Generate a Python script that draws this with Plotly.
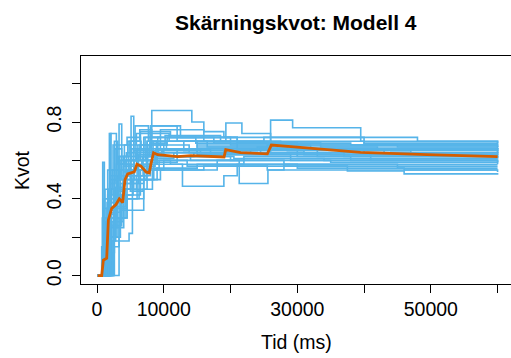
import plotly.graph_objects as go

# Blue runs: breakpoints (time in ms, ratio)
runs_t = [
    [0, 1600, 2400, 4000, 8200, 14200, 16000, 19000, 40000, 60000],
    [0, 850, 1100, 2000, 3000, 5500, 9000, 19300, 21700, 26000, 40000, 60000],
    [0, 1850, 2100, 3500, 6000, 8500, 12000, 25500, 26000, 29300, 39500, 60000],
    [0, 3300, 3700, 5000, 7000, 9500, 15000, 30000, 60000],
    [0, 1200, 2800, 5100, 5500, 7500, 9000, 20000, 35000, 60000],
    [0, 1500, 3000, 6000, 8500, 12800, 19000, 21000, 30000, 60000],
    [0, 2000, 4500, 7500, 10000, 21300, 25600, 28000, 45000, 60000],
    [0, 1000, 2500, 4500, 7000, 9000, 15000, 28000, 37500, 46000, 60000],
    [0, 2000, 3500, 6500, 7000, 9500, 16000, 30000, 46000, 60000],
    [0, 1500, 2200, 4500, 6000, 8000, 11000, 20000, 32000, 60000],
    [0, 700, 1500, 3000, 4200, 6000, 8000, 12000, 26000, 60000],
    [0, 1300, 2600, 4000, 5200, 7000, 9000, 14000, 22000, 38000, 60000],
    [0, 1800, 3000, 5500, 6000, 8000, 12000, 19000, 30000, 60000],
    [0, 1100, 1600, 2400, 4500, 6500, 8800, 13000, 25000, 48000, 60000],
    [0, 2500, 4000, 5000, 6200, 9000, 15000, 27000, 40000, 60000],
    [0, 900, 2000, 3300, 4800, 6500, 8000, 10000, 20000, 35000, 60000],
    [0, 1400, 2100, 3800, 5000, 6900, 8300, 18000, 28000, 60000],
    [0, 1700, 2600, 3400, 5200, 7200, 9500, 16000, 26000, 45000, 60000],
    [0, 1900, 3000, 4500, 6500, 8000, 11000, 22000, 34000, 60000],
    [0, 1200, 2300, 3600, 5800, 7500, 9000, 13000, 24000, 42000, 60000],
    [0, 2200, 3500, 5200, 6800, 7800, 10500, 21000, 33000, 60000],
    [0, 1000, 1800, 3200, 4800, 6200, 8400, 15000, 26000, 50000, 60000],
    [0, 1500, 2800, 4300, 5500, 7600, 9800, 17000, 29000, 60000],
    [0, 800, 1700, 2900, 4100, 5900, 8100, 12500, 21000, 38000, 60000],
    [0, 2400, 3900, 5300, 7100, 8700, 11500, 19500, 31000, 60000],
    [0, 1300, 2500, 4000, 5600, 7300, 9200, 14500, 23000, 44000, 60000],
    [0, 1600, 2700, 3900, 6100, 7900, 10200, 18500, 27500, 60000],
    [0, 1100, 2000, 3300, 4700, 6700, 8600, 12000, 20500, 36000, 60000],
    [0, 2100, 3700, 5400, 7400, 9300, 13500, 25500, 39000, 60000],
    [0, 1800, 2900, 4400, 6300, 8100, 10800, 16500, 28500, 47000, 60000],
    [0, 1700, 2000, 2900, 3400, 4600, 6600, 9100, 17500, 30000, 60000],
    [0, 2300, 2600, 3100, 4400, 5700, 7700, 10400, 20000, 37000, 60000],
    [0, 1200, 2400, 4800, 5300, 6300, 7400, 9700, 15500, 41000, 60000],
    [0, 2600, 3300, 4200, 5900, 6900, 8900, 13800, 24500, 43000, 60000],
    [0, 1400, 1900, 2700, 3700, 5000, 6400, 8200, 14800, 33500, 60000],
]
runs_y = [
    [0, 0.42, 0.55, 0.62, 0.86, 0.80, 0.75, 0.72, 0.68, 0.68],
    [0, 0.59, 0.25, 0.40, 0.52, 0.60, 0.70, 0.795, 0.74, 0.70, 0.69, 0.69],
    [0, 0.74, 0.45, 0.55, 0.65, 0.62, 0.66, 0.68, 0.81, 0.77, 0.70, 0.67],
    [0, 0.79, 0.50, 0.60, 0.72, 0.66, 0.63, 0.62, 0.61],
    [0, 0.20, 0.45, 0.83, 0.62, 0.70, 0.65, 0.64, 0.63, 0.63],
    [0, 0.25, 0.40, 0.50, 0.58, 0.465, 0.52, 0.58, 0.57, 0.57],
    [0, 0.30, 0.45, 0.55, 0.60, 0.48, 0.55, 0.58, 0.56, 0.56],
    [0, 0.10, 0.30, 0.40, 0.50, 0.56, 0.58, 0.57, 0.545, 0.53, 0.525],
    [0, 0.20, 0.34, 0.34, 0.50, 0.55, 0.57, 0.56, 0.55, 0.54],
    [0, 0.38, 0.45, 0.55, 0.68, 0.75, 0.72, 0.68, 0.66, 0.65],
    [0, 0.15, 0.35, 0.50, 0.60, 0.66, 0.78, 0.70, 0.66, 0.64],
    [0, 0.28, 0.42, 0.54, 0.48, 0.58, 0.62, 0.60, 0.62, 0.60, 0.60],
    [0, 0.30, 0.58, 0.65, 0.52, 0.59, 0.62, 0.66, 0.63, 0.62],
    [0, 0.40, 0.55, 0.68, 0.72, 0.60, 0.66, 0.70, 0.72, 0.70, 0.69],
    [0, 0.25, 0.52, 0.48, 0.58, 0.64, 0.68, 0.66, 0.64, 0.63],
    [0, 0.35, 0.50, 0.62, 0.70, 0.75, 0.68, 0.62, 0.60, 0.59, 0.58],
    [0, 0.30, 0.38, 0.48, 0.44, 0.45, 0.55, 0.60, 0.58, 0.58],
    [0, 0.32, 0.50, 0.60, 0.66, 0.72, 0.76, 0.70, 0.68, 0.67, 0.66],
    [0, 0.20, 0.35, 0.42, 0.55, 0.60, 0.58, 0.61, 0.60, 0.59],
    [0, 0.45, 0.55, 0.60, 0.64, 0.70, 0.66, 0.65, 0.67, 0.66, 0.65],
    [0, 0.33, 0.48, 0.55, 0.62, 0.68, 0.72, 0.66, 0.62, 0.61],
    [0, 0.22, 0.40, 0.58, 0.52, 0.63, 0.70, 0.67, 0.64, 0.62, 0.62],
    [0, 0.18, 0.36, 0.45, 0.52, 0.64, 0.66, 0.63, 0.60, 0.60],
    [0, 0.30, 0.45, 0.58, 0.68, 0.74, 0.78, 0.72, 0.69, 0.68, 0.68],
    [0, 0.28, 0.40, 0.50, 0.57, 0.61, 0.64, 0.65, 0.63, 0.63],
    [0, 0.26, 0.44, 0.50, 0.60, 0.66, 0.62, 0.64, 0.66, 0.65, 0.64],
    [0, 0.34, 0.46, 0.57, 0.62, 0.69, 0.73, 0.70, 0.68, 0.67],
    [0, 0.40, 0.52, 0.62, 0.55, 0.60, 0.64, 0.62, 0.61, 0.61, 0.61],
    [0, 0.26, 0.42, 0.50, 0.56, 0.60, 0.57, 0.55, 0.55, 0.55],
    [0, 0.36, 0.52, 0.60, 0.68, 0.74, 0.70, 0.67, 0.65, 0.64, 0.63],
    [0, 0.05, 0.74, 0.50, 0.62, 0.70, 0.65, 0.72, 0.69, 0.66, 0.66],
    [0, 0.12, 0.70, 0.58, 0.64, 0.78, 0.70, 0.66, 0.64, 0.62, 0.62],
    [0, 0.08, 0.18, 0.22, 0.40, 0.55, 0.62, 0.66, 0.64, 0.60, 0.59],
    [0, 0.15, 0.30, 0.45, 0.52, 0.62, 0.68, 0.64, 0.66, 0.64, 0.64],
    [0, 0.20, 0.48, 0.66, 0.58, 0.70, 0.76, 0.72, 0.69, 0.67, 0.67],
]

# Mean (orange) line
mean_t = [100, 700, 950, 1450, 1700, 2200, 2840, 3340, 3840, 4190, 4590, 5580,
          5980, 6580, 7330, 7820, 8070, 8470, 9070, 12060, 14050, 19030, 19280,
          21520, 25510, 26110, 29500, 39460, 49430, 60000]
mean_y = [0.0, 0.0, 0.08, 0.09, 0.29, 0.35, 0.37, 0.40, 0.38, 0.50, 0.53, 0.54,
          0.58, 0.57, 0.54, 0.535, 0.58, 0.64, 0.63, 0.62, 0.625, 0.618, 0.656,
          0.64, 0.634, 0.68, 0.67, 0.642, 0.63, 0.62]

x_tickvals = [0, 10000, 20000, 30000, 40000, 50000, 60000]
x_ticktext = ["0", "10000", "", "30000", "", "50000", ""]
y_tickvals = [0.0, 0.2, 0.4, 0.6, 0.8, 1.0]
y_ticktext = ["0.0", "", "0.4", "", "0.8", ""]

BLUE = "#56B4E9"
ORANGE = "#D55E00"
FONT = "Liberation Sans, Arial, Helvetica, sans-serif"

fig = go.Figure()
for t, y in zip(runs_t, runs_y):
    fig.add_trace(go.Scatter(x=t, y=y, mode="lines", line=dict(color=BLUE, width=1.6, shape="hv"),
                             hoverinfo="skip", showlegend=False))
fig.add_trace(go.Scatter(x=mean_t, y=mean_y, mode="lines", line=dict(color=ORANGE, width=2.8),
                         hoverinfo="skip", showlegend=False))

fig.update_layout(
    width=511, height=358,
    margin=dict(l=81, r=0, t=56, b=74),
    plot_bgcolor="white", paper_bgcolor="white",
    font=dict(family=FONT, size=19.5, color="black"),
    showlegend=False,
    xaxis=dict(range=[-2400, 62010], tickvals=x_tickvals, ticktext=x_ticktext,
               ticks="outside", ticklen=8, tickcolor="black", showgrid=False,
               zeroline=False, showline=True, linecolor="black", linewidth=1,
               mirror=True, tickfont=dict(size=19.5)),
    yaxis=dict(range=[-0.044, 1.144], tickvals=y_tickvals, ticktext=y_ticktext,
               ticks="outside", ticklen=8, tickcolor="black", showgrid=False,
               zeroline=False, showline=True, linecolor="black", linewidth=1,
               tickangle=-90, tickfont=dict(size=19.5), ticklabelstandoff=3),
    annotations=[
        dict(text="<b>Skärningskvot: Modell 4</b>", xref="paper", yref="paper",
             x=0.5, y=1, yshift=34, xanchor="center", yanchor="middle",
             showarrow=False, font=dict(size=21)),
        dict(text="Tid (ms)", xref="paper", yref="paper", x=0.5, y=0, yshift=-58,
             xanchor="center", yanchor="middle", showarrow=False, font=dict(size=19.5)),
        dict(text="Kvot", xref="paper", yref="paper", x=0, xshift=-59, y=0.5,
             xanchor="center", yanchor="middle", textangle=-90, showarrow=False,
             font=dict(size=19.5)),
    ],
)

fig.write_html("out.html")
